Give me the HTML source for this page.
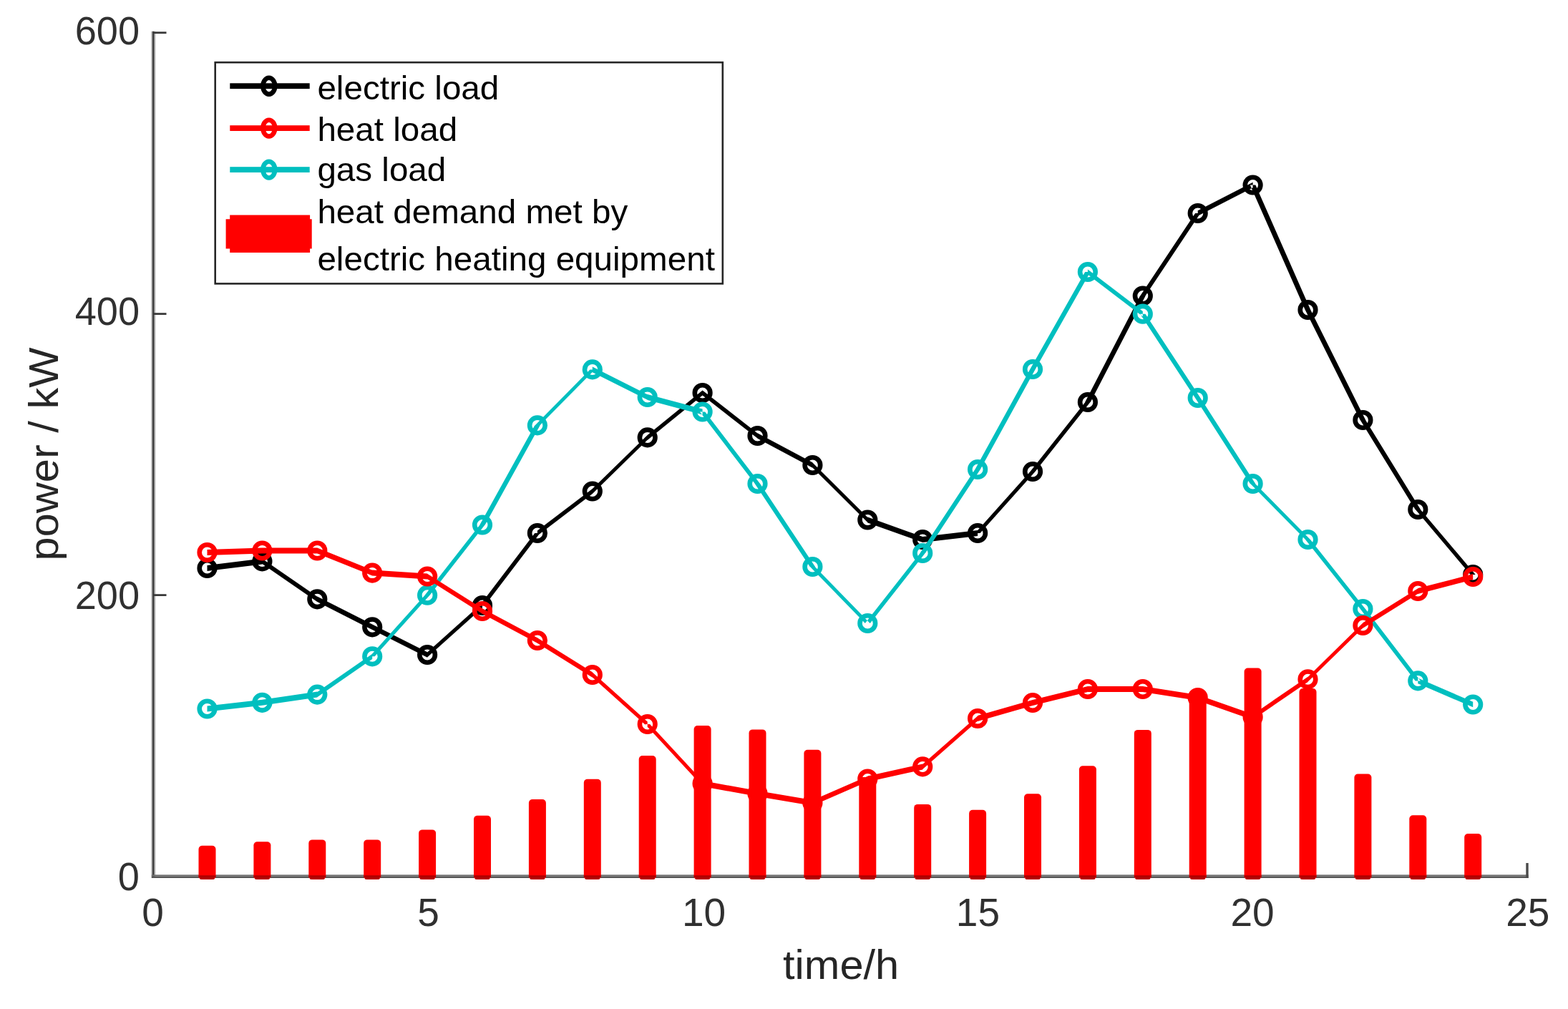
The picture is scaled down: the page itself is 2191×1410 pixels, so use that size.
<!DOCTYPE html>
<html><head><meta charset="utf-8"><title>chart</title>
<style>html,body{margin:0;padding:0;background:#fff;overflow:hidden}svg{display:block}</style>
</head><body>
<svg width="2191" height="1410" viewBox="0 0 2191 1410">
<rect width="2191" height="1410" fill="#fff"/>
<rect x="211.2" y="43.8" width="6.2" height="1183" fill="#bcbcbc"/>
<rect x="212.9" y="43.8" width="2.6" height="1183" fill="#404040"/>
<rect x="212" y="1222.4" width="1923.6" height="2.3" fill="#6e6e6e"/>
<rect x="212" y="1224.7" width="1923.6" height="2.3" fill="#555555"/>
<line x1="214" y1="45.7" x2="232.5" y2="45.7" stroke="#3a3a3a" stroke-width="2.8"/>
<line x1="214" y1="438.6" x2="232.5" y2="438.6" stroke="#3a3a3a" stroke-width="2.8"/>
<line x1="214" y1="831.6" x2="232.5" y2="831.6" stroke="#3a3a3a" stroke-width="2.8"/>
<line x1="597.1" y1="1224.6" x2="597.1" y2="1206" stroke="#262626" stroke-width="2.8"/>
<line x1="981.6" y1="1224.6" x2="981.6" y2="1206" stroke="#262626" stroke-width="2.8"/>
<line x1="1366.1" y1="1224.6" x2="1366.1" y2="1206" stroke="#262626" stroke-width="2.8"/>
<line x1="1750.6" y1="1224.6" x2="1750.6" y2="1206" stroke="#262626" stroke-width="2.8"/>
<line x1="2134" y1="1227.0" x2="2134" y2="1206" stroke="#4a4a4a" stroke-width="3.4"/>
<g fill="#ff0000"><rect x="277.5" y="1181.8" width="24.0" height="47.2" rx="5"/><rect x="354.4" y="1176.2" width="24.0" height="52.8" rx="5"/><rect x="431.3" y="1173.4" width="24.0" height="55.6" rx="5"/><rect x="508.2" y="1173.4" width="24.0" height="55.6" rx="5"/><rect x="585.1" y="1159.4" width="24.0" height="69.6" rx="5"/><rect x="662.0" y="1139.8" width="24.0" height="89.2" rx="5"/><rect x="738.9" y="1117.0" width="24.0" height="112.0" rx="5"/><rect x="815.8" y="1088.7" width="24.0" height="140.3" rx="5"/><rect x="892.7" y="1056.1" width="24.0" height="172.9" rx="5"/><rect x="969.6" y="1014.1" width="24.0" height="214.9" rx="5"/><rect x="1046.5" y="1019.4" width="24.0" height="209.6" rx="5"/><rect x="1123.4" y="1047.7" width="24.0" height="181.3" rx="5"/><rect x="1200.3" y="1086.0" width="24.0" height="143.0" rx="5"/><rect x="1277.2" y="1123.9" width="24.0" height="105.1" rx="5"/><rect x="1354.1" y="1131.8" width="24.0" height="97.2" rx="5"/><rect x="1431.0" y="1109.2" width="24.0" height="119.8" rx="5"/><rect x="1507.9" y="1070.3" width="24.0" height="158.7" rx="5"/><rect x="1584.8" y="1019.9" width="24.0" height="209.1" rx="5"/><rect x="1661.7" y="965.0" width="24.0" height="264.0" rx="5"/><rect x="1738.6" y="933.6" width="24.0" height="295.4" rx="5"/><rect x="1815.5" y="962.0" width="24.0" height="267.0" rx="5"/><rect x="1892.4" y="1081.6" width="24.0" height="147.4" rx="5"/><rect x="1969.3" y="1139.3" width="24.0" height="89.7" rx="5"/><rect x="2046.2" y="1165.0" width="24.0" height="64.0" rx="5"/></g>
<path d="M277.5,1223.2H301.5V1226.0H277.5ZM279.5,1226.0H299.5V1228.8H279.5ZM354.4,1223.2H378.4V1226.0H354.4ZM356.4,1226.0H376.4V1228.8H356.4ZM431.3,1223.2H455.3V1226.0H431.3ZM433.3,1226.0H453.3V1228.8H433.3ZM508.2,1223.2H532.2V1226.0H508.2ZM510.2,1226.0H530.2V1228.8H510.2ZM585.1,1223.2H609.1V1226.0H585.1ZM587.1,1226.0H607.1V1228.8H587.1ZM662.0,1223.2H686.0V1226.0H662.0ZM664.0,1226.0H684.0V1228.8H664.0ZM738.9,1223.2H762.9V1226.0H738.9ZM740.9,1226.0H760.9V1228.8H740.9ZM815.8,1223.2H839.8V1226.0H815.8ZM817.8,1226.0H837.8V1228.8H817.8ZM892.7,1223.2H916.7V1226.0H892.7ZM894.7,1226.0H914.7V1228.8H894.7ZM969.6,1223.2H993.6V1226.0H969.6ZM971.6,1226.0H991.6V1228.8H971.6ZM1046.5,1223.2H1070.5V1226.0H1046.5ZM1048.5,1226.0H1068.5V1228.8H1048.5ZM1123.4,1223.2H1147.4V1226.0H1123.4ZM1125.4,1226.0H1145.4V1228.8H1125.4ZM1200.3,1223.2H1224.3V1226.0H1200.3ZM1202.3,1226.0H1222.3V1228.8H1202.3ZM1277.2,1223.2H1301.2V1226.0H1277.2ZM1279.2,1226.0H1299.2V1228.8H1279.2ZM1354.1,1223.2H1378.1V1226.0H1354.1ZM1356.1,1226.0H1376.1V1228.8H1356.1ZM1431.0,1223.2H1455.0V1226.0H1431.0ZM1433.0,1226.0H1453.0V1228.8H1433.0ZM1507.9,1223.2H1531.9V1226.0H1507.9ZM1509.9,1226.0H1529.9V1228.8H1509.9ZM1584.8,1223.2H1608.8V1226.0H1584.8ZM1586.8,1226.0H1606.8V1228.8H1586.8ZM1661.7,1223.2H1685.7V1226.0H1661.7ZM1663.7,1226.0H1683.7V1228.8H1663.7ZM1738.6,1223.2H1762.6V1226.0H1738.6ZM1740.6,1226.0H1760.6V1228.8H1740.6ZM1815.5,1223.2H1839.5V1226.0H1815.5ZM1817.5,1226.0H1837.5V1228.8H1817.5ZM1892.4,1223.2H1916.4V1226.0H1892.4ZM1894.4,1226.0H1914.4V1228.8H1894.4ZM1969.3,1223.2H1993.3V1226.0H1969.3ZM1971.3,1226.0H1991.3V1228.8H1971.3ZM2046.2,1223.2H2070.2V1226.0H2046.2ZM2048.2,1226.0H2068.2V1228.8H2048.2Z" fill="#b00000"/>
<path d="M289.5,790.0 L366.4,780.4 L366.4,788.4 L289.5,798.0ZM366.4,780.8 L443.3,833.7 L443.3,840.9 L366.4,788.0ZM443.3,833.5 L520.2,872.5 L520.2,880.1 L443.3,841.1ZM520.2,872.5 L597.1,911.2 L597.1,918.8 L520.2,880.1ZM597.1,911.5 L674.0,842.5 L674.0,849.5 L597.1,918.5ZM670.4,846.0 L747.3,745.0 L754.5,745.0 L677.6,846.0ZM750.9,741.4 L827.8,682.9 L827.8,690.1 L750.9,748.6ZM827.8,683.1 L904.7,608.0 L904.7,614.8 L827.8,689.9ZM904.7,607.9 L981.6,545.5 L981.6,552.5 L904.7,614.9ZM981.6,545.4 L1058.5,605.4 L1058.5,612.6 L981.6,552.6ZM1058.5,605.2 L1135.4,646.2 L1135.4,653.8 L1058.5,612.8ZM1135.4,646.6 L1212.3,723.1 L1212.3,729.9 L1135.4,653.4ZM1212.3,722.6 L1289.2,750.1 L1289.2,757.9 L1212.3,730.4ZM1289.2,750.0 L1366.1,741.0 L1366.1,749.0 L1289.2,758.0ZM1362.6,745.0 L1439.5,659.0 L1446.5,659.0 L1369.6,745.0ZM1439.5,659.0 L1516.4,562.0 L1523.4,562.0 L1446.5,659.0ZM1516.1,562.0 L1593.0,413.5 L1600.6,413.5 L1523.7,562.0ZM1593.2,413.5 L1670.1,298.0 L1677.3,298.0 L1600.4,413.5ZM1673.7,294.2 L1750.6,254.7 L1750.6,262.3 L1673.7,301.8ZM1746.8,258.5 L1823.7,433.0 L1831.3,433.0 L1754.4,258.5ZM1823.7,433.0 L1900.6,587.0 L1908.2,587.0 L1831.3,433.0ZM1900.7,587.0 L1977.6,712.0 L1985.0,712.0 L1908.1,587.0ZM1977.8,712.0 L2054.7,803.0 L2061.7,803.0 L1984.8,712.0Z" fill="#000000"/>
<g fill="none" stroke="#000000" stroke-width="6.6"><circle cx="289.5" cy="794.0" r="10.8"/><circle cx="366.4" cy="784.4" r="10.8"/><circle cx="443.3" cy="837.3" r="10.8"/><circle cx="520.2" cy="876.3" r="10.8"/><circle cx="597.1" cy="915.0" r="10.8"/><circle cx="674.0" cy="846.0" r="10.8"/><circle cx="750.9" cy="745.0" r="10.8"/><circle cx="827.8" cy="686.5" r="10.8"/><circle cx="904.7" cy="611.4" r="10.8"/><circle cx="981.6" cy="549.0" r="10.8"/><circle cx="1058.5" cy="609.0" r="10.8"/><circle cx="1135.4" cy="650.0" r="10.8"/><circle cx="1212.3" cy="726.5" r="10.8"/><circle cx="1289.2" cy="754.0" r="10.8"/><circle cx="1366.1" cy="745.0" r="10.8"/><circle cx="1443.0" cy="659.0" r="10.8"/><circle cx="1519.9" cy="562.0" r="10.8"/><circle cx="1596.8" cy="413.5" r="10.8"/><circle cx="1673.7" cy="298.0" r="10.8"/><circle cx="1750.6" cy="258.5" r="10.8"/><circle cx="1827.5" cy="433.0" r="10.8"/><circle cx="1904.4" cy="587.0" r="10.8"/><circle cx="1981.3" cy="712.0" r="10.8"/><circle cx="2058.2" cy="803.0" r="10.8"/></g>

<path d="M289.5,986.5 L366.4,977.8 L366.4,985.8 L289.5,994.5ZM366.4,977.8 L443.3,966.6 L443.3,974.6 L366.4,985.8ZM443.3,967.0 L520.2,913.7 L520.2,920.9 L443.3,974.2ZM516.8,917.3 L593.7,831.7 L600.5,831.7 L523.6,917.3ZM593.6,831.7 L670.5,733.5 L677.5,733.5 L600.6,831.7ZM670.3,733.5 L747.2,594.4 L754.6,594.4 L677.7,733.5ZM747.5,594.4 L824.4,516.4 L831.2,516.4 L754.3,594.4ZM827.8,512.6 L904.7,551.2 L904.7,558.8 L827.8,520.2ZM904.7,551.1 L981.6,571.6 L981.6,579.4 L904.7,558.9ZM978.0,575.5 L1054.9,676.0 L1062.1,676.0 L985.2,575.5ZM1054.8,676.0 L1131.7,792.0 L1139.1,792.0 L1062.2,676.0ZM1132.0,792.0 L1208.9,871.0 L1215.7,871.0 L1138.8,792.0ZM1208.8,871.0 L1285.7,773.0 L1292.7,773.0 L1215.8,871.0ZM1285.5,773.0 L1362.4,656.0 L1369.8,656.0 L1292.9,773.0ZM1362.4,656.0 L1439.3,516.0 L1446.7,516.0 L1369.8,656.0ZM1439.3,516.0 L1516.2,380.0 L1523.6,380.0 L1446.7,516.0ZM1519.9,376.4 L1596.8,435.1 L1596.8,442.3 L1519.9,383.6ZM1593.1,438.7 L1670.0,556.0 L1677.4,556.0 L1600.5,438.7ZM1670.0,556.0 L1746.9,676.0 L1754.3,676.0 L1677.4,556.0ZM1747.2,676.0 L1824.1,754.0 L1830.9,754.0 L1754.0,676.0ZM1824.0,754.0 L1900.9,851.0 L1907.9,851.0 L1831.0,754.0ZM1900.8,851.0 L1977.7,951.4 L1984.9,951.4 L1908.0,851.0ZM1981.3,947.6 L2058.2,980.7 L2058.2,988.3 L1981.3,955.2Z" fill="#00bfbf"/>
<g fill="none" stroke="#00bfbf" stroke-width="6.6"><circle cx="289.5" cy="990.5" r="10.8"/><circle cx="366.4" cy="981.8" r="10.8"/><circle cx="443.3" cy="970.6" r="10.8"/><circle cx="520.2" cy="917.3" r="10.8"/><circle cx="597.1" cy="831.7" r="10.8"/><circle cx="674.0" cy="733.5" r="10.8"/><circle cx="750.9" cy="594.4" r="10.8"/><circle cx="827.8" cy="516.4" r="10.8"/><circle cx="904.7" cy="555.0" r="10.8"/><circle cx="981.6" cy="575.5" r="10.8"/><circle cx="1058.5" cy="676.0" r="10.8"/><circle cx="1135.4" cy="792.0" r="10.8"/><circle cx="1212.3" cy="871.0" r="10.8"/><circle cx="1289.2" cy="773.0" r="10.8"/><circle cx="1366.1" cy="656.0" r="10.8"/><circle cx="1443.0" cy="516.0" r="10.8"/><circle cx="1519.9" cy="380.0" r="10.8"/><circle cx="1596.8" cy="438.7" r="10.8"/><circle cx="1673.7" cy="556.0" r="10.8"/><circle cx="1750.6" cy="676.0" r="10.8"/><circle cx="1827.5" cy="754.0" r="10.8"/><circle cx="1904.4" cy="851.0" r="10.8"/><circle cx="1981.3" cy="951.4" r="10.8"/><circle cx="2058.2" cy="984.5" r="10.8"/></g>

<path d="M289.5,768.0 L366.4,765.5 L366.4,773.5 L289.5,776.0ZM366.4,765.5 L443.3,765.5 L443.3,773.5 L366.4,773.5ZM443.3,765.6 L520.2,796.7 L520.2,804.5 L443.3,773.4ZM520.2,796.6 L597.1,801.5 L597.1,809.5 L520.2,804.6ZM597.1,801.8 L674.0,850.3 L674.0,857.7 L597.1,809.2ZM674.0,850.2 L750.9,891.2 L750.9,898.8 L674.0,857.8ZM750.9,891.3 L827.8,939.3 L827.8,946.7 L750.9,898.7ZM827.8,939.5 L904.7,1008.5 L904.7,1015.5 L827.8,946.5ZM901.3,1012.0 L978.2,1095.0 L985.0,1095.0 L908.1,1012.0ZM981.6,1091.0 L1058.5,1105.0 L1058.5,1113.0 L981.6,1099.0ZM1058.5,1105.0 L1135.4,1118.0 L1135.4,1126.0 L1058.5,1113.0ZM1135.4,1118.2 L1212.3,1084.7 L1212.3,1092.3 L1135.4,1125.8ZM1212.3,1084.5 L1289.2,1067.4 L1289.2,1075.4 L1212.3,1092.5ZM1289.2,1067.9 L1366.1,1000.5 L1366.1,1007.5 L1289.2,1074.9ZM1366.1,1000.1 L1443.0,978.1 L1443.0,985.9 L1366.1,1007.9ZM1443.0,978.1 L1519.9,959.1 L1519.9,966.9 L1443.0,985.9ZM1519.9,959.0 L1596.8,959.0 L1596.8,967.0 L1519.9,967.0ZM1596.8,959.0 L1673.7,971.0 L1673.7,979.0 L1596.8,967.0ZM1673.7,971.1 L1750.6,998.1 L1750.6,1005.9 L1673.7,978.9ZM1750.6,998.4 L1827.5,945.7 L1827.5,952.9 L1750.6,1005.6ZM1827.5,945.9 L1904.4,870.6 L1904.4,877.4 L1827.5,952.7ZM1904.4,870.3 L1981.3,822.3 L1981.3,829.7 L1904.4,877.7ZM1981.3,822.1 L2058.2,802.1 L2058.2,809.9 L1981.3,829.9Z" fill="#ff0000"/>
<g fill="none" stroke="#ff0000" stroke-width="6.6"><circle cx="289.5" cy="772.0" r="10.8"/><circle cx="366.4" cy="769.5" r="10.8"/><circle cx="443.3" cy="769.5" r="10.8"/><circle cx="520.2" cy="800.6" r="10.8"/><circle cx="597.1" cy="805.5" r="10.8"/><circle cx="674.0" cy="854.0" r="10.8"/><circle cx="750.9" cy="895.0" r="10.8"/><circle cx="827.8" cy="943.0" r="10.8"/><circle cx="904.7" cy="1012.0" r="10.8"/><circle cx="981.6" cy="1095.0" r="10.8"/><circle cx="1058.5" cy="1109.0" r="10.8"/><circle cx="1135.4" cy="1122.0" r="10.8"/><circle cx="1212.3" cy="1088.5" r="10.8"/><circle cx="1289.2" cy="1071.4" r="10.8"/><circle cx="1366.1" cy="1004.0" r="10.8"/><circle cx="1443.0" cy="982.0" r="10.8"/><circle cx="1519.9" cy="963.0" r="10.8"/><circle cx="1596.8" cy="963.0" r="10.8"/><circle cx="1673.7" cy="975.0" r="10.8"/><circle cx="1750.6" cy="1002.0" r="10.8"/><circle cx="1827.5" cy="949.3" r="10.8"/><circle cx="1904.4" cy="874.0" r="10.8"/><circle cx="1981.3" cy="826.0" r="10.8"/><circle cx="2058.2" cy="806.0" r="10.8"/></g>

<text transform="translate(195,1243.6) scale(0.985,1)" font-family="Liberation Sans, Arial, Helvetica, sans-serif" font-size="55" fill="#303030" text-anchor="end">0</text>
<text transform="translate(195,850.6) scale(0.985,1)" font-family="Liberation Sans, Arial, Helvetica, sans-serif" font-size="55" fill="#303030" text-anchor="end">200</text>
<text transform="translate(195,454.4) scale(0.985,1)" font-family="Liberation Sans, Arial, Helvetica, sans-serif" font-size="55" fill="#303030" text-anchor="end">400</text>
<text transform="translate(195,61.5) scale(0.985,1)" font-family="Liberation Sans, Arial, Helvetica, sans-serif" font-size="55" fill="#303030" text-anchor="end">600</text>
<text x="213.6" y="1293.6" font-family="Liberation Sans, Arial, Helvetica, sans-serif" font-size="55" fill="#303030" text-anchor="middle">0</text>
<text x="598.6" y="1293.6" font-family="Liberation Sans, Arial, Helvetica, sans-serif" font-size="55" fill="#303030" text-anchor="middle">5</text>
<text x="983.6" y="1293.6" font-family="Liberation Sans, Arial, Helvetica, sans-serif" font-size="55" fill="#303030" text-anchor="middle">10</text>
<text x="1366.4" y="1293.6" font-family="Liberation Sans, Arial, Helvetica, sans-serif" font-size="55" fill="#303030" text-anchor="middle">15</text>
<text x="1750.0" y="1293.6" font-family="Liberation Sans, Arial, Helvetica, sans-serif" font-size="55" fill="#303030" text-anchor="middle">20</text>
<text x="2134.8" y="1293.6" font-family="Liberation Sans, Arial, Helvetica, sans-serif" font-size="55" fill="#303030" text-anchor="middle">25</text>
<text transform="translate(1175.1,1368) scale(1.047,1)" font-family="Liberation Sans, Arial, Helvetica, sans-serif" font-size="56.9" fill="#262626" text-anchor="middle">time/h</text>
<text transform="translate(81,634.5) rotate(-90) scale(1.045,1)" font-family="Liberation Sans, Arial, Helvetica, sans-serif" font-size="57" fill="#262626" text-anchor="middle">power / kW</text>
<rect x="300.7" y="87.2" width="709.1" height="309.2" fill="#fff" stroke="#262626" stroke-width="2.6"/>
<rect x="321.3" y="116.3" width="111.4" height="7.8" fill="#000000"/>
<ellipse cx="375.8" cy="120.2" rx="8.4" ry="11.4" fill="none" stroke="#000000" stroke-width="6.6"/>
<rect x="321.3" y="175.2" width="111.4" height="7.8" fill="#ff0000"/>
<ellipse cx="375.8" cy="179.1" rx="8.4" ry="11.4" fill="none" stroke="#ff0000" stroke-width="6.6"/>
<rect x="321.3" y="233.2" width="111.4" height="7.8" fill="#00bfbf"/>
<ellipse cx="375.8" cy="237.1" rx="8.4" ry="11.4" fill="none" stroke="#00bfbf" stroke-width="6.6"/>
<path d="M321.2,300.6H433.1V306.2H435.7V347.6H433.1V352.9H321.2V347.6H315.6V306.2H321.2Z" fill="#ff0000"/>
<text transform="translate(443.4,138.6) scale(1.046,1)" font-family="Liberation Sans, Arial, Helvetica, sans-serif" font-size="45.5" fill="#000">electric load</text>
<text transform="translate(443.4,197.3) scale(1.046,1)" font-family="Liberation Sans, Arial, Helvetica, sans-serif" font-size="45.5" fill="#000">heat load</text>
<text transform="translate(443.4,252.9) scale(1.046,1)" font-family="Liberation Sans, Arial, Helvetica, sans-serif" font-size="45.5" fill="#000">gas load</text>
<text transform="translate(443.4,311.9) scale(1.046,1)" font-family="Liberation Sans, Arial, Helvetica, sans-serif" font-size="45.5" fill="#000">heat demand met by</text>
<text transform="translate(443.4,378) scale(1.046,1)" font-family="Liberation Sans, Arial, Helvetica, sans-serif" font-size="45.5" fill="#000">electric heating equipment</text>
</svg>
</body></html>
